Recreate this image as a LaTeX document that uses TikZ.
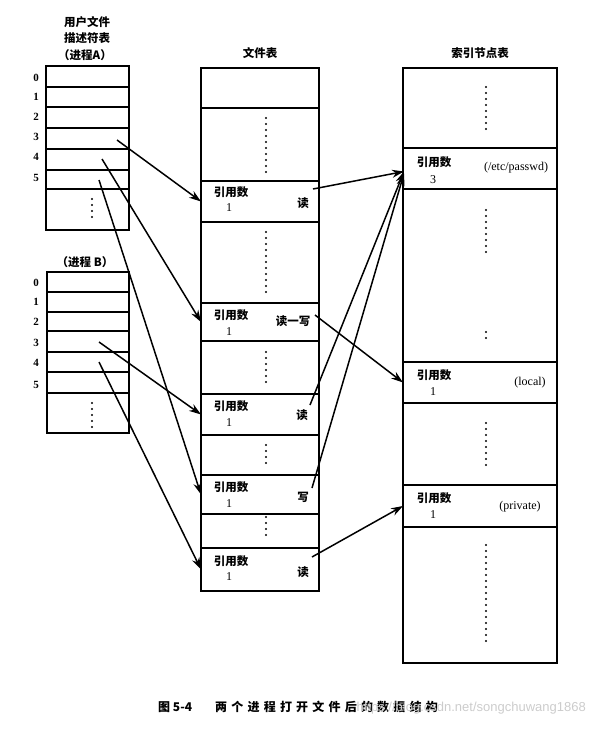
\documentclass[tikz,border=0pt]{standalone}
\usepackage{fontspec}
\setmainfont{Liberation Serif}
\newfontfamily\cjk{Noto Sans CJK SC}
\newfontfamily\cjkcap[LetterSpace=35]{Noto Sans CJK SC}
\newfontfamily\wmfont{Liberation Sans}
\usetikzlibrary{arrows.meta,calc}
\tikzset{
  cell/.style={draw, line width=1.5pt, inner sep=0pt, outer sep=0pt},
  arr/.style={line width=1.5pt, -{Stealth[length=12pt,width=8pt]}},
  vdots/.style={line width=2.4pt, line cap=round, dash pattern=on 0pt off 6pt},
  zh/.style={font=\cjk\bfseries\fontsize{11.5}{13}\selectfont, inner sep=0pt},
  num/.style={font=\fontsize{11}{12}\selectfont\bfseries, inner sep=0pt},
  lat/.style={font=\fontsize{12}{13}\selectfont, inner sep=0pt},
}
\newcommand\cellnode[5]{%
  \node[cell, minimum width={(#4-#2)*1pt}, minimum height={(#5-#3)*1pt}] (#1) at ({(#2+#4)/2},{(#3+#5)/2}) {};}
\begin{document}
\begin{tikzpicture}[x=1pt,y=-1pt]
\useasboundingbox (0,0) rectangle (592,731);

% ---------- Process A ----------
\node[zh] (hA1) at (87,22) {用户文件};
\node[zh] (hA2) at (87,38) {描述符表};
\node[zh] (hA3) at (85,55) {（进程A）};
\cellnode{a0}{46}{66}{129}{87}
\cellnode{a1}{46}{87}{129}{107}
\cellnode{a2}{46}{107}{129}{128}
\cellnode{a3}{46}{128}{129}{149}
\cellnode{a4}{46}{149}{129}{170}
\cellnode{a5}{46}{170}{129}{189}
\cellnode{a6}{46}{189}{129}{230}
\draw[vdots] (92,199) -- (92,223);
\foreach \i/\y in {0/78,1/97,2/117,3/137,4/157,5/178}
  \node[num] (la\i) at (36,\y) {\i};

% ---------- Process B ----------
\node[zh] (hB) at (85,262) {（进程 B）};
\cellnode{b0}{47}{272}{129}{292}
\cellnode{b1}{47}{292}{129}{312}
\cellnode{b2}{47}{312}{129}{331}
\cellnode{b3}{47}{331}{129}{352}
\cellnode{b4}{47}{352}{129}{372}
\cellnode{b5}{47}{372}{129}{393}
\cellnode{b6}{47}{393}{129}{433}
\draw[vdots] (92,403) -- (92,427);
\foreach \i/\y in {0/283,1/302,2/322,3/343,4/363,5/385}
  \node[num] (lb\i) at (36,\y) {\i};

% ---------- File table ----------
\node[zh] (hF) at (260,53) {文件表};
\cellnode{f0}{201}{68}{319}{108}
\cellnode{fd1}{201}{108}{319}{181}
\cellnode{f1}{201}{181}{319}{222}
\cellnode{fd2}{201}{222}{319}{303}
\cellnode{f2}{201}{303}{319}{341}
\cellnode{fd3}{201}{341}{319}{394}
\cellnode{f3}{201}{394}{319}{435}
\cellnode{fd4}{201}{435}{319}{475}
\cellnode{f4}{201}{475}{319}{514}
\cellnode{fd5}{201}{514}{319}{548}
\cellnode{f5}{201}{548}{319}{591}
\draw[vdots] (266,118) -- (266,172);
\draw[vdots] (266,232) -- (266,294);
\draw[vdots] (266,352) -- (266,386);
\draw[vdots] (266,445) -- (266,468);
\draw[vdots] (266,517) -- (266,539);

\node[zh] (f1r) at (231,192) {引用数};
\node[lat] (f1n) at (229,208) {1};
\node[zh] (f1m) at (303,203) {读};
\node[zh] (f2r) at (231,315) {引用数};
\node[lat] (f2n) at (229,332) {1};
\node[zh] (f2m) at (293,321) {读一写};
\node[zh] (f3r) at (231,406) {引用数};
\node[lat] (f3n) at (229,423) {1};
\node[zh] (f3m) at (302,415) {读};
\node[zh] (f4r) at (231,487) {引用数};
\node[lat] (f4n) at (229,504) {1};
\node[zh] (f4m) at (303,497) {写};
\node[zh] (f5r) at (231,561) {引用数};
\node[lat] (f5n) at (229,577) {1};
\node[zh] (f5m) at (303,572) {读};

% ---------- Inode table ----------
\node[zh] (hI) at (480,53) {索引节点表};
\cellnode{i0}{403}{68}{557}{148}
\cellnode{i1}{403}{148}{557}{189}
\cellnode{id2}{403}{189}{557}{362}
\cellnode{i2}{403}{362}{557}{403}
\cellnode{id3}{403}{403}{557}{485}
\cellnode{i3}{403}{485}{557}{527}
\cellnode{id4}{403}{527}{557}{663}
\draw[vdots] (486,87) -- (486,130);
\draw[vdots] (486,210) -- (486,256);
\draw[vdots] (486,332) -- (486,343);
\draw[vdots] (486,423) -- (486,466);
\draw[vdots] (486,545) -- (486,642);

\node[zh] (i1r) at (434,162) {引用数};
\node[lat] (i1n) at (433,180) {3};
\node[lat] (i1f) at (516,168) {(/etc/passwd)};
\node[zh] (i2r) at (434,375) {引用数};
\node[lat] (i2n) at (433,392) {1};
\node[lat] (i2f) at (530,383) {(local)};
\node[zh] (i3r) at (434,498) {引用数};
\node[lat] (i3n) at (433,515) {1};
\node[lat] (i3f) at (520,507) {(private)};

% ---------- start points ----------
\coordinate (sA3) at (117,140);
\coordinate (sA4) at (102,159);
\coordinate (sA5) at (99,180);
\coordinate (sB3) at (99,342);
\coordinate (sB4) at (99,362);
\coordinate (sF1) at (313,189);
\coordinate (sF2) at (315,315);
\coordinate (sF3) at (310,405);
\coordinate (sF4) at (312,488);
\coordinate (sF5) at (312,557);

% ---------- arrows ----------
\draw[arr] (sA3) -- (f1.west);
\draw[arr] (sA4) -- (f2.west);
\draw[arr] (sA5) -- (f4.west);
\draw[arr] (sB3) -- (f3.west);
\draw[arr] (sB4) -- (f5.west);
\draw[arr] (sF1) -- ($(i1.west)+(1,3)$);
\draw[arr] (sF3) -- ($(i1.west)+(1,3)$);
\draw[arr] (sF4) -- ($(i1.west)+(1,5)$);
\draw[arr] (sF2) -- (i2.west);
\draw[arr] (sF5) -- (i3.west);

% ---------- caption ----------
\node[font=\cjk\bfseries\fontsize{12}{13}\selectfont, inner sep=0pt, anchor=west] (capn) at (158,707) {图 5-4};
\node[font=\cjkcap\bfseries\fontsize{12}{13}\selectfont, inner sep=0pt, anchor=west] (capt) at (215,707) {两个进程打开文件后的数据结构};
\node[font=\wmfont\fontsize{13}{14}\selectfont, text=black!20, inner sep=0pt, anchor=east] (wm) at (586,708) {https://blog.csdn.net/songchuwang1868};
\end{tikzpicture}
\end{document}
